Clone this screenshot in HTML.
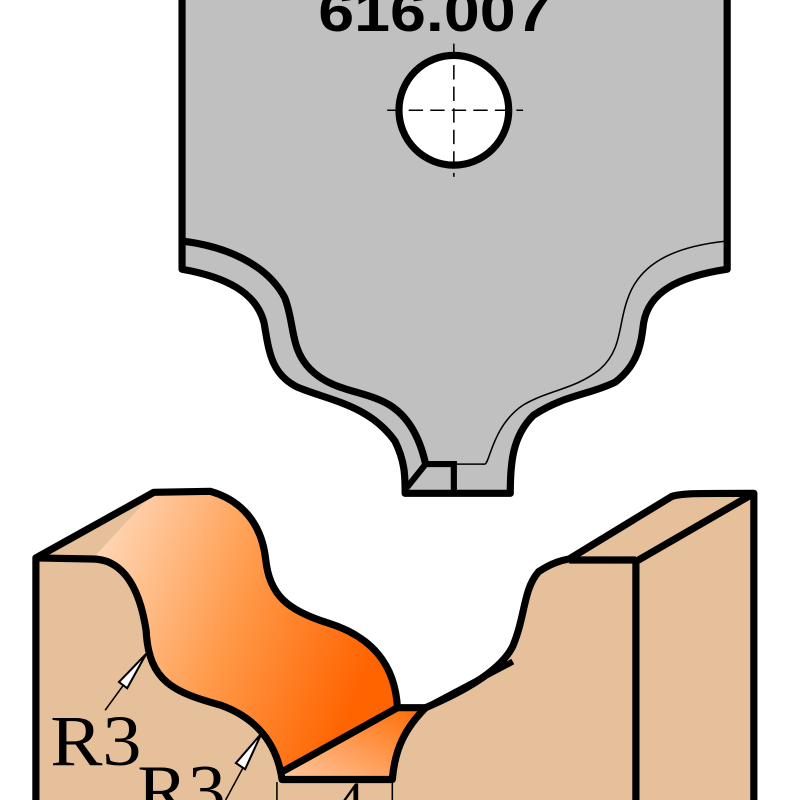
<!DOCTYPE html>
<html><head><style>html,body{margin:0;padding:0;background:#fff}svg{display:block}</style></head>
<body>
<svg width="800" height="800" viewBox="0 0 1560 1560" xmlns="http://www.w3.org/2000/svg">
<defs>
<linearGradient id="og" x1="0" y1="0" x2="1" y2="0.35">
<stop offset="0" stop-color="#ffe0c8"/>
<stop offset="0.55" stop-color="#ff9a4a"/>
<stop offset="1" stop-color="#ff6400"/>
</linearGradient>
<linearGradient id="og2" x1="0" y1="1" x2="1" y2="0">
<stop offset="0" stop-color="#ffc8a0"/>
<stop offset="1" stop-color="#ff6a00"/>
</linearGradient>
</defs>
<!-- knife -->
<path d="M355,-20 L355,525 C440,540 500,570 515,630 C525,690 530,730 580,755 C640,780 720,790 770,860 C790,900 790,930 790,962 L995,962 C995,900 1000,850 1040,810 C1100,770 1150,770 1200,745 C1245,710 1250,670 1255,630 C1265,570 1320,540 1418,525 L1418,-20 Z" fill="#c0c0c0" stroke="#000" stroke-width="14" stroke-linejoin="round"/>
<path d="M355,470 C440,480 520,515 555,580 C575,630 565,680 605,720 C650,765 710,760 760,790 C800,815 820,860 830,905" fill="none" stroke="#000" stroke-width="14"/>
<path d="M1418,470 C1320,480 1250,510 1225,580 C1205,630 1215,680 1170,720 C1120,760 1070,760 1020,790 C960,830 955,905 945,905 L890,905" fill="none" stroke="#000" stroke-width="3"/>
<path d="M830,905 L885,905 L885,962 M830,905 L790,955" fill="none" stroke="#000" stroke-width="12"/>
<text x="848" y="60" font-family="Liberation Sans Narrow, Liberation Sans, sans-serif" font-weight="bold" font-size="110" textLength="455" lengthAdjust="spacingAndGlyphs" text-anchor="middle">616.007</text>
<circle cx="885" cy="215" r="107" fill="#fff" stroke="#000" stroke-width="14"/>
<path d="M755,215 H1020 M885,85 V345" stroke="#000" stroke-width="3" stroke-dasharray="28,14"/>
<!-- right block -->
<path d="M700,1560 L700,1450 L830,1380 C900,1350 975,1310 1000,1260 C1025,1200 1020,1150 1050,1115 C1080,1095 1100,1092 1110,1090 L1310,968 C1330,962 1350,962 1470,962 L1470,1560 Z" fill="#e6c09a"/>
<path d="M830,1380 C900,1350 975,1310 1000,1260 C1025,1200 1020,1150 1050,1115 C1080,1095 1100,1092 1110,1090 L1310,968 C1330,962 1350,962 1470,962 L1470,1560" fill="none" stroke="#000" stroke-width="14" stroke-linejoin="round"/>
<path d="M1240,1560 V1095 L1470,962 M1110,1092 H1240" fill="none" stroke="#000" stroke-width="14"/>
<path d="M830,1380 L1000,1290" stroke="#000" stroke-width="12"/>
<!-- left block -->
<path d="M70,1560 L70,1088 L300,960 L410,958 C470,975 510,1020 518,1090 C525,1160 560,1190 640,1215 C720,1240 770,1290 775,1380 L830,1380 L800,1560 Z" fill="#e6c09a"/>
<path d="M180,1090 L300,960 L410,958 C470,975 510,1020 518,1090 C525,1160 560,1190 640,1215 C720,1240 770,1290 775,1380 L550,1505 C540,1450 500,1400 430,1375 C340,1350 290,1330 285,1230 C270,1130 230,1090 180,1090 Z" fill="url(#og)"/>
<path d="M550,1505 L775,1380 L830,1380 C790,1420 770,1460 765,1520 L550,1520 Z" fill="url(#og2)"/>
<path d="M70,1560 L70,1088 L300,960 L410,958 C470,975 510,1020 518,1090 C525,1160 560,1190 640,1215 C720,1240 770,1290 775,1380 M70,1088 L180,1090 C230,1090 270,1130 285,1230 C290,1330 340,1350 430,1375 C500,1400 540,1450 550,1520 L765,1520 C770,1460 790,1420 830,1380 L775,1380 M550,1505 L775,1380" fill="none" stroke="#000" stroke-width="14" stroke-linejoin="round"/>
<!-- dimension -->
<path d="M540,1525 V1560 M765,1525 V1560" stroke="#000" stroke-width="3"/>
<text x="655" y="1600" font-family="Liberation Serif, serif" font-size="110">4</text>
<!-- arrows -->
<path d="M205,1385 L285,1275" stroke="#000" stroke-width="3"/>
<path d="M285,1275 L232,1330 L248,1342 Z" fill="#fff" stroke="#000" stroke-width="4"/>
<path d="M440,1560 L510,1430" stroke="#000" stroke-width="3"/>
<path d="M510,1430 L460,1488 L478,1500 Z" fill="#fff" stroke="#000" stroke-width="4"/>
<text x="98" y="1492" font-family="Liberation Serif, serif" font-size="140" textLength="178" lengthAdjust="spacingAndGlyphs">R3</text>
<text x="268" y="1588" font-family="Liberation Serif, serif" font-size="140" textLength="172" lengthAdjust="spacingAndGlyphs">R3</text>
</svg>
</body></html>
